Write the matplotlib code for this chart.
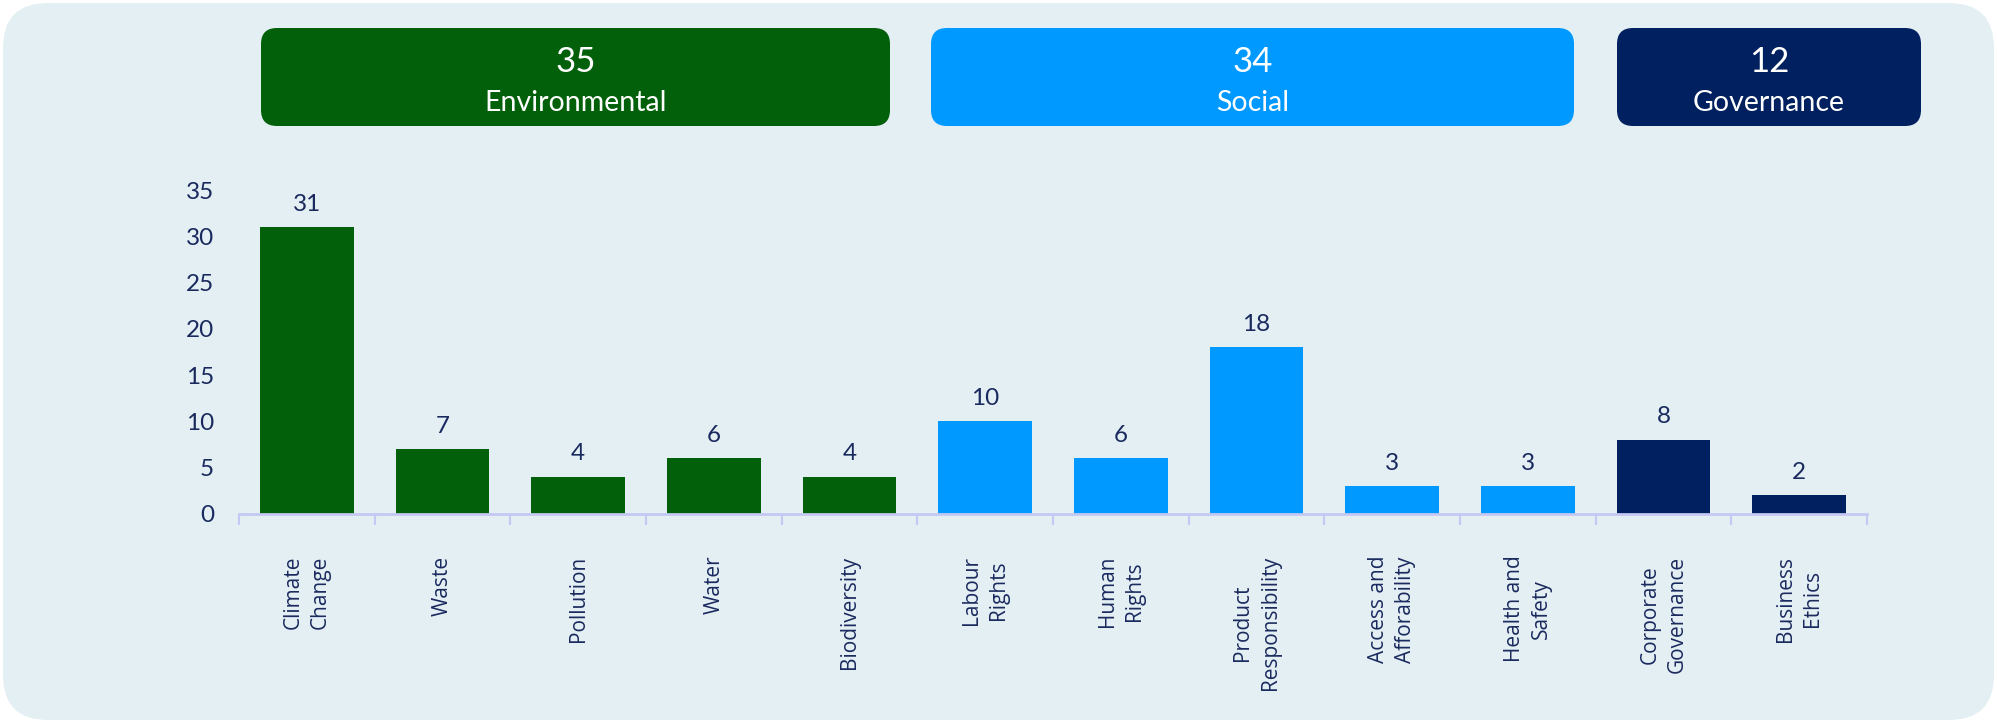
import matplotlib
matplotlib.use("Agg")
import matplotlib.pyplot as plt
from matplotlib.patches import FancyBboxPatch
import numpy as np

# data
categories = ["Climate\nChange", "Waste", "Pollution", "Water", "Biodiversity",
              "Labour\nRights", "Human\nRights", "Product\nResponsibility",
              "Access and\nAfforability", "Health and\nSafety",
              "Corporate\nGovernance", "Business\nEthics"]
values = [31, 7, 4, 6, 4, 10, 6, 18, 3, 3, 8, 2]
pillar = ["E", "E", "E", "E", "E", "S", "S", "S", "S", "S", "G", "G"]

pillar_names = ["Environmental", "Social", "Governance"]
pillar_totals = [35, 34, 12]
pillar_keys = ["E", "S", "G"]

COLORS = {"E": "#03600A", "S": "#0099FF", "G": "#00205F"}
TEXT = "#1A2A5E"
BG = "#E4EFF4"

W, H = 1997, 723
fig = plt.figure(figsize=(W / 100, H / 100), dpi=100, facecolor="white")

# background panel, drawn in pixel units
bg = fig.add_axes([0, 0, 1, 1])
bg.set_xlim(0, W)
bg.set_ylim(H, 0)
bg.axis("off")
bg.add_patch(FancyBboxPatch((3, 3), W - 6, H - 6,
                            boxstyle="round,pad=0,rounding_size=45",
                            fc=BG, ec="none"))

# pillar header boxes (left, right in pixels)
box_x = [(261, 890), (931, 1574), (1617, 1921)]
for (x0, x1), key, name, total in zip(box_x, pillar_keys, pillar_names, pillar_totals):
    bg.add_patch(FancyBboxPatch((x0, 28), x1 - x0, 98,
                                boxstyle="round,pad=0,rounding_size=16",
                                fc=COLORS[key], ec="none"))
    cx = (x0 + x1) / 2
    bg.text(cx, 62, str(total), ha="center", va="center", color="white",
            fontsize=25, family="Lato")
    bg.text(cx, 103, name, ha="center", va="center", color="white",
            fontsize=20.5, family="Lato")

# bar chart
ax = fig.add_axes([239 / W, 1 - 514 / H, 1628 / W, 324 / H])
ax.patch.set_alpha(0)
x = np.arange(len(categories))
bars = ax.bar(x, values, width=0.69, color=[COLORS[p] for p in pillar])
for b, v in zip(bars, values):
    ax.annotate(str(v), (b.get_x() + b.get_width() / 2, v),
                xytext=(0, 9), textcoords="offset points",
                ha="center", va="bottom", fontsize=17.5, color=TEXT, family="Lato")

ax.set_xlim(-0.5, len(categories) - 0.5)
ax.set_ylim(0, 35)
ax.set_yticks(range(0, 36, 5))
ax.tick_params(axis="y", length=0, pad=18, labelsize=17.5, labelcolor=TEXT)
for lab in ax.get_yticklabels():
    lab.set_family("Lato")

# category boundary ticks on the bottom
ax.set_xticks(np.arange(-0.5, len(categories)), minor=True)
ax.set_xticks(x)
ax.set_xticklabels(categories, rotation=90, fontsize=15, color=TEXT,
                   family="Open Sans", linespacing=1.4, va="top", ha="center")
ax.tick_params(axis="x", which="major", length=0, pad=30)
ax.tick_params(axis="x", which="minor", length=8, width=1.5, color="#C5C8F2")

for s in ["top", "right", "left"]:
    ax.spines[s].set_visible(False)
ax.spines["bottom"].set_color("#C5C8F2")
ax.spines["bottom"].set_linewidth(2)

fig.savefig("out.png", dpi=100, facecolor="white")
